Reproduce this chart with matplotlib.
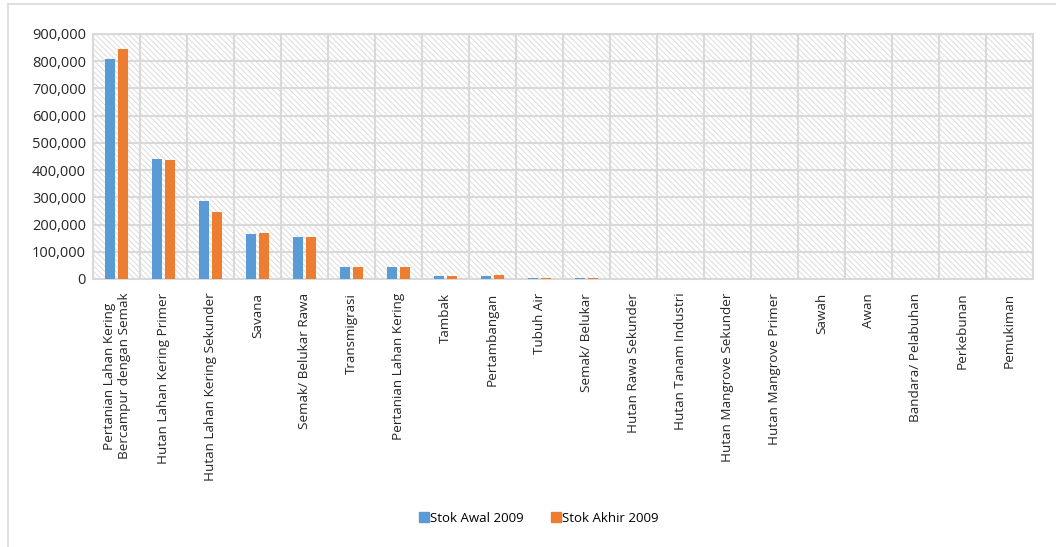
import matplotlib
matplotlib.use("Agg")
import matplotlib.pyplot as plt
import numpy as np
from matplotlib.lines import Line2D
from matplotlib.ticker import FuncFormatter, MultipleLocator

categories = [
    "Pertanian Lahan Kering\nBercampur dengan Semak",
    "Hutan Lahan Kering Primer",
    "Hutan Lahan Kering Sekunder",
    "Savana",
    "Semak/ Belukar Rawa",
    "Transmigrasi",
    "Pertanian Lahan Kering",
    "Tambak",
    "Pertambangan",
    "Tubuh Air",
    "Semak/ Belukar",
    "Hutan Rawa Sekunder",
    "Hutan Tanam Industri",
    "Hutan Mangrove Sekunder",
    "Hutan Mangrove Primer",
    "Sawah",
    "Awan",
    "Bandara/ Pelabuhan",
    "Perkebunan",
    "Pemukiman",
]
stok_awal = [808000, 440000, 285000, 166000, 154000, 45000, 44000, 11000, 11000, 3000,
             2500, 500, 400, 300, 300, 200, 200, 100, 100, 100]
stok_akhir = [845000, 438000, 247000, 168000, 153000, 45000, 45000, 11000, 15000, 3000,
              2500, 500, 400, 300, 300, 200, 200, 100, 100, 100]

BLUE = "#5B9BD5"
ORANGE = "#ED7D31"
GRID = "#D9D9D9"

plt.rcParams["font.family"] = ["Open Sans", "DejaVu Sans"]
plt.rcParams["hatch.color"] = "#DCDCDC"
plt.rcParams["hatch.linewidth"] = 0.7

fig = plt.figure(figsize=(10.56, 5.47), dpi=100)
ax = fig.add_axes([0.0881, 0.490, 0.890, 0.448])

x = np.arange(len(categories))
w = 0.21
ax.bar(x - 0.145, stok_awal, width=w, color=BLUE, label="Stok Awal 2009", zorder=3)
ax.bar(x + 0.145, stok_akhir, width=w, color=ORANGE, label="Stok Akhir 2009", zorder=3)

ax.set_xlim(-0.5, len(categories) - 0.5)
ax.set_ylim(0, 900000)
ax.yaxis.set_major_locator(MultipleLocator(100000))
ax.yaxis.set_major_formatter(FuncFormatter(lambda v, _: f"{int(v):,}"))

# hatched plot background
ax.patch.set_facecolor("white")
ax.patch.set_hatch("\\\\\\\\\\\\")
ax.patch.set_edgecolor("#DCDCDC")

for yv in range(100000, 900001, 100000):
    ax.axhline(yv, color=GRID, lw=1.5, zorder=1)
for xv in np.arange(0.5, len(categories) - 0.5, 1):
    ax.axvline(xv, color=GRID, lw=1.5, zorder=1)

for s in ax.spines.values():
    s.set_color(GRID)
    s.set_linewidth(1.5)

ax.set_xticks(x)
ax.set_xticklabels(categories, rotation=90, ha="center", va="top", multialignment="center",
                   fontsize=9.7, color="#262626")
ax.tick_params(axis="x", length=0, pad=10)
ax.tick_params(axis="y", length=0, labelsize=10.5, colors="#262626", pad=5)

handles = [
    Line2D([], [], marker="s", ls="", color=BLUE, markersize=7),
    Line2D([], [], marker="s", ls="", color=ORANGE, markersize=7),
]
fig.legend(handles, ["Stok Awal 2009", "Stok Akhir 2009"], loc="center",
           bbox_to_anchor=(0.51, 0.052), ncol=2, frameon=False, fontsize=9.5,
           handletextpad=0.05, columnspacing=2.0, handlelength=0.8)

# outer chart frame (top and left edges visible)
fig.add_artist(Line2D([8 / 1056, 8 / 1056], [0, 1 - 4 / 547], transform=fig.transFigure,
                      color=GRID, lw=1.2))
fig.add_artist(Line2D([8 / 1056, 1], [1 - 4 / 547, 1 - 4 / 547], transform=fig.transFigure,
                      color=GRID, lw=1.2))

fig.savefig("out.png", dpi=100)
